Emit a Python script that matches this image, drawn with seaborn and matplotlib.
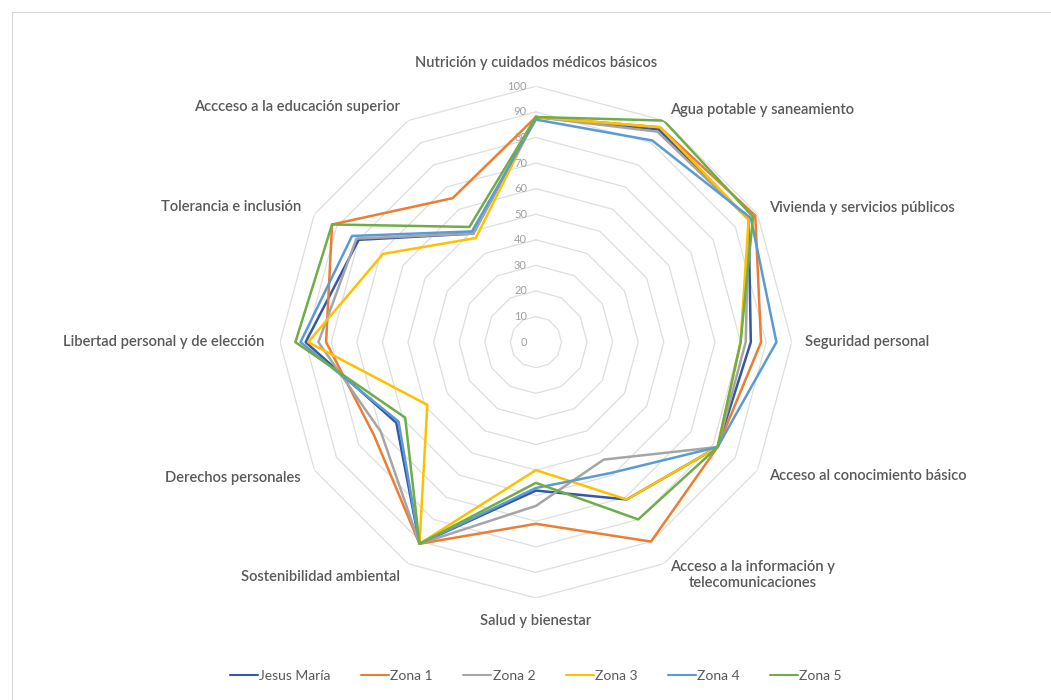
import numpy as np
import pandas as pd
import matplotlib
matplotlib.use("Agg")
import matplotlib.pyplot as plt
import matplotlib.transforms as mtransforms
from matplotlib.patches import Rectangle
import seaborn as sns

categories = [
    "Nutrición y cuidados médicos básicos",
    "Agua potable y saneamiento",
    "Vivienda y servicios públicos",
    "Seguridad personal",
    "Acceso al conocimiento básico",
    "Acceso a la información y\ntelecomunicaciones",
    "Salud y bienestar",
    "Sostenibilidad ambiental",
    "Derechos personales",
    "Libertad personal y de elección",
    "Tolerancia e inclusión",
    "Accceso a la educación superior",
]
series_names = ["Jesus María", "Zona 1", "Zona 2", "Zona 3", "Zona 4", "Zona 5"]
jesus_maria = [88, 96, 96, 84, 82, 71, 58, 91, 63, 90, 80, 49]
zona1 = [88, 97, 99, 88, 82, 90, 71, 91, 73, 82, 92, 65]
zona2 = [88, 95, 96, 82, 82, 53, 64, 91, 70, 85, 81, 49]
zona3 = [88, 97, 96, 80, 82, 71, 50, 91, 49, 89, 69, 47]
zona4 = [87, 91, 97, 94, 82, 59, 57, 91, 62, 92, 83, 50]
zona5 = [88, 100, 98, 80, 82, 80, 55, 91, 59, 94, 92, 52]
tick_levels = [0, 10, 20, 30, 40, 50, 60, 70, 80, 90, 100]
colors = ["#3557A8", "#ED7D31", "#A5A5A5", "#FFC000", "#5B9BD5", "#70AD47"]

values = [jesus_maria, zona1, zona2, zona3, zona4, zona5]
n = len(categories)
angles = np.linspace(0, 2 * np.pi, n, endpoint=False)
angles_closed = np.append(angles, 2 * np.pi)

rows = []
for name, vals in zip(series_names, values):
    for i, a in enumerate(angles_closed):
        rows.append({"serie": name, "theta": a, "valor": vals[i % n], "order": i})
df = pd.DataFrame(rows)

sns.set_style("white")
plt.rcParams["font.family"] = ["Lato", "DejaVu Sans"]

fig = plt.figure(figsize=(10.51, 7.0), dpi=100)
fig.patches.append(Rectangle((12 / 1051, -0.1), 1.2, 1 - 12 / 700 + 0.1,
                             transform=fig.transFigure, fill=False,
                             edgecolor="#D9D9D9", linewidth=0.8))
ax = fig.add_axes([0.2664, 0.1457, 0.487, 0.731], projection="polar")
ax.set_theta_zero_location("N")
ax.set_theta_direction(-1)
ax.set_ylim(0, 100)
ax.grid(False)
ax.spines["polar"].set_visible(False)
ax.set_xticks([])
ax.set_yticks([])
ax.patch.set_alpha(0)

# polygonal gridlines
for lvl in tick_levels[1:]:
    ax.plot(angles_closed, [lvl] * (n + 1), color="#DEDEDE", linewidth=0.9, zorder=1)

sns.lineplot(data=df, x="theta", y="valor", hue="serie", palette=colors,
             hue_order=series_names, sort=False, estimator=None, units="serie",
             linewidth=1.8, ax=ax, legend=True, zorder=3)
ax.set_xlabel("")
ax.set_ylabel("")
ax.set_ylim(0, 100)

# radial tick labels
off = mtransforms.offset_copy(ax.transData, fig=fig, x=-9, y=0, units="dots")
for lvl in tick_levels:
    ax.text(0, lvl, str(lvl), transform=off, ha="right", va="center",
            fontsize=8, color="#A0A0A0")

# category labels
for a, lab in zip(angles, categories):
    deg = np.degrees(a) % 360
    if np.isclose(deg, 0) or np.isclose(deg, 180):
        ax.text(a, 109, lab, ha="center", va="center", fontsize=10.6,
                color="#595959", fontweight="semibold")
    elif deg < 180:
        ax.text(a, 105, lab, ha="left", va="center", fontsize=10.6,
                color="#595959", fontweight="semibold",
                multialignment="center")
    else:
        ax.text(a, 106, lab, ha="right", va="center", fontsize=10.6,
                color="#595959", fontweight="semibold")

leg = ax.legend(loc="center", bbox_to_anchor=(0.51, 0.034), bbox_transform=fig.transFigure,
                ncol=6, frameon=False, fontsize=10, handlelength=2.0,
                columnspacing=2.2, handletextpad=0.1, title=None)
for t in leg.get_texts():
    t.set_color("#595959")
for h in leg.legend_handles:
    h.set_linewidth(1.5)

fig.savefig("out.png", dpi=100)
